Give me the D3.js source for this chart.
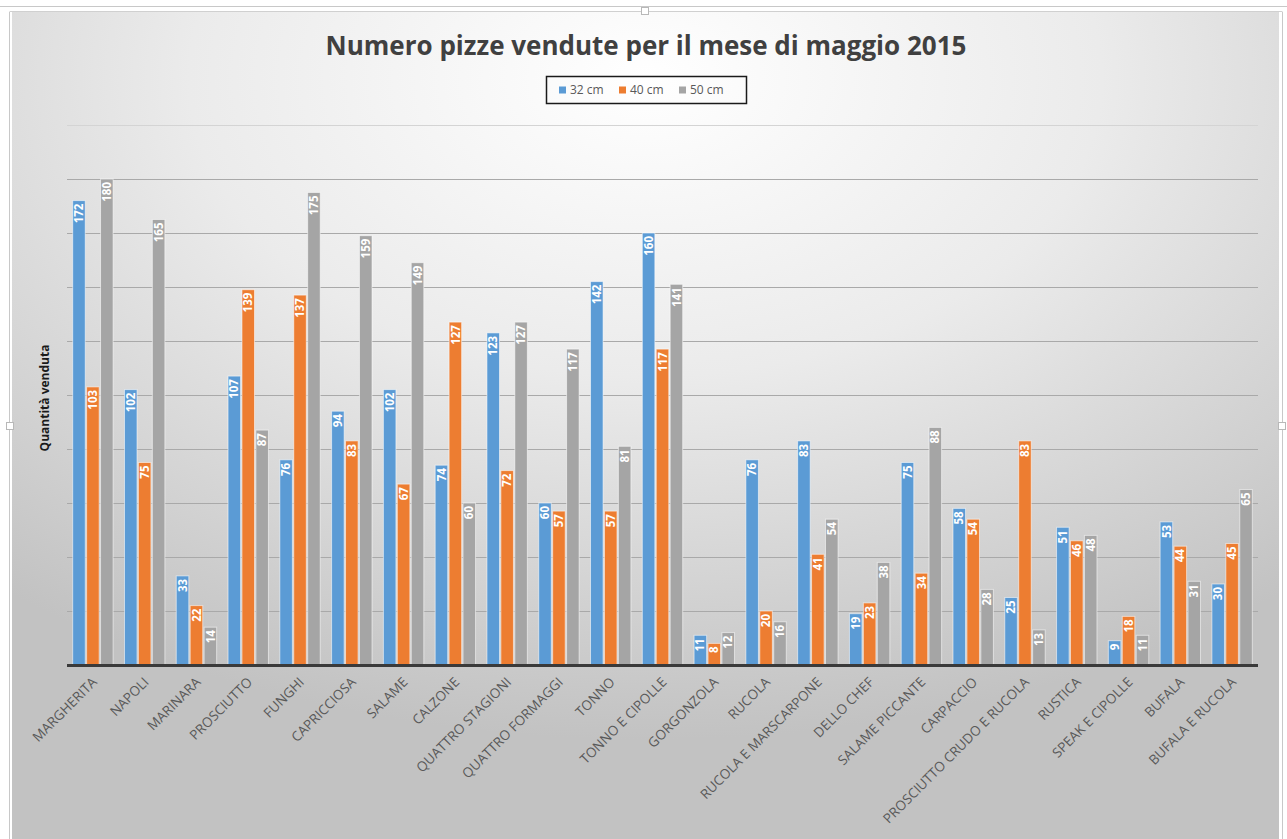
<!DOCTYPE html>
<html>
<head>
<meta charset="utf-8">
<script src="https://cdn.jsdelivr.net/npm/d3@7"></script>
<style>
  html, body { margin: 0; padding: 0; background: #fff; }
  svg { display: block; font-family: "Open Sans", "Liberation Sans", sans-serif; }
</style>
</head>
<body>
<div id="chart"></div>
<script>
// data
const pizze = ['MARGHERITA', 'NAPOLI', 'MARINARA', 'PROSCIUTTO', 'FUNGHI', 'CAPRICCIOSA',
  'SALAME', 'CALZONE', 'QUATTRO STAGIONI', 'QUATTRO FORMAGGI', 'TONNO', 'TONNO E CIPOLLE',
  'GORGONZOLA', 'RUCOLA', 'RUCOLA E MARSCARPONE', 'DELLO CHEF', 'SALAME PICCANTE',
  'CARPACCIO', 'PROSCIUTTO CRUDO E RUCOLA', 'RUSTICA', 'SPEAK E CIPOLLE', 'BUFALA',
  'BUFALA E RUCOLA'];
const series = ['32 cm', '40 cm', '50 cm'];
const cm32 = [172, 102, 33, 107, 76, 94, 102, 74, 123, 60, 142, 160, 11, 76, 83, 19, 75, 58, 25, 51, 9, 53, 30];
const cm40 = [103, 75, 22, 139, 137, 83, 67, 127, 72, 57, 57, 117, 8, 20, 41, 23, 34, 54, 83, 46, 18, 44, 45];
const cm50 = [180, 165, 14, 87, 175, 159, 149, 60, 127, 117, 81, 141, 12, 16, 54, 38, 88, 28, 13, 48, 11, 31, 65];
const gridTicks = [0, 20, 40, 60, 80, 100, 120, 140, 160, 180, 200];

const colors = ['#5b9bd5', '#ed7d31', '#a5a5a5'];
const values = [cm32, cm40, cm50];

const W = 1287, H = 839;
const plot = {left: 67, right: 1258, top: 125, bottom: 665};

const svg = d3.select('#chart').append('svg')
  .attr('width', W).attr('height', H);

// background gradient
const defs = svg.append('defs');
const grad = defs.append('radialGradient')
  .attr('id', 'bg')
  .attr('cx', 0.5).attr('cy', 0.08).attr('r', 0.8)
  .attr('fx', 0.5).attr('fy', 0.08);
grad.append('stop').attr('offset', '0%').attr('stop-color', '#ffffff');
grad.append('stop').attr('offset', '45%').attr('stop-color', '#ebebeb');
grad.append('stop').attr('offset', '100%').attr('stop-color', '#c2c2c2');

// frame (editor selection outline)
svg.append('line').attr('x1', 0).attr('x2', W).attr('y1', 6.5).attr('y2', 6.5)
  .attr('stroke', '#c8c8c8');
svg.append('rect')
  .attr('x', 12).attr('y', 12).attr('width', 1267).attr('height', H - 12)
  .attr('fill', 'url(#bg)');
svg.append('line').attr('x1', 9.5).attr('x2', 9.5).attr('y1', 12).attr('y2', H)
  .attr('stroke', '#c8c8c8');
svg.append('line').attr('x1', 1282.5).attr('x2', 1282.5).attr('y1', 12).attr('y2', H)
  .attr('stroke', '#c8c8c8');
svg.append('line').attr('x1', 9.5).attr('x2', 1282.5).attr('y1', 11.5).attr('y2', 11.5)
  .attr('stroke', '#d0d0d0');
[[645, 11], [10, 426], [1282, 426]].forEach(p => {
  svg.append('rect').attr('x', p[0] - 3.5).attr('y', p[1] - 3.5)
    .attr('width', 7).attr('height', 7)
    .attr('fill', '#fff').attr('stroke', '#b8b8b8');
});

// scales
const x0 = d3.scaleBand().domain(pizze)
  .range([plot.left, plot.right])
  .paddingInner(0.22).paddingOuter(0.11);
const x1 = d3.scaleBand().domain(series)
  .range([0, x0.bandwidth()])
  .paddingInner(0.1);
const y = d3.scaleLinear().domain([0, 200]).range([plot.bottom, plot.top]);

// gridlines
svg.append('g').attr('class', 'grid')
  .selectAll('line')
  .data(gridTicks.filter(d => d > 0))
  .enter().append('line')
  .attr('x1', plot.left).attr('x2', plot.right)
  .attr('y1', d => Math.round(y(d)) + 0.5).attr('y2', d => Math.round(y(d)) + 0.5)
  .attr('stroke', d => d === 200 ? '#d4d4d4' : '#a9a9a9')
  .attr('stroke-width', 1);

// bars
const groups = svg.append('g').attr('class', 'bars')
  .selectAll('g')
  .data(pizze)
  .enter().append('g')
  .attr('transform', d => `translate(${x0(d)},0)`);

const barData = (d, i) => series.map((s, k) => ({key: s, k: k, value: values[k][i]}));

groups.selectAll('rect')
  .data(barData)
  .enter().append('rect')
  .attr('x', d => x1(d.key))
  .attr('y', d => y(d.value))
  .attr('width', x1.bandwidth())
  .attr('height', d => y(0) - y(d.value))
  .attr('fill', d => colors[d.k])
  .attr('stroke', 'rgba(255,255,255,0.55)')
  .attr('stroke-width', 1);

// data labels, rotated, inside end
groups.selectAll('text')
  .data(barData)
  .enter().append('text')
  .attr('transform', d => `translate(${x1(d.key) + x1.bandwidth() / 2},${y(d.value) + 3}) rotate(-90)`)
  .attr('text-anchor', 'end')
  .attr('dy', '0.36em')
  .attr('fill', '#ffffff')
  .attr('font-size', '11.5px')
  .attr('font-weight', 'bold')
  .text(d => d.value);

// x axis line
svg.append('line')
  .attr('x1', plot.left).attr('x2', plot.right)
  .attr('y1', plot.bottom + 0.5).attr('y2', plot.bottom + 0.5)
  .attr('stroke', '#3a3a3a').attr('stroke-width', 3);

// category labels
svg.append('g').attr('class', 'x-labels')
  .selectAll('text')
  .data(pizze)
  .enter().append('text')
  .attr('transform', d => `translate(${x0(d) + x0.bandwidth() / 2 + 5},${plot.bottom + 18}) rotate(-45)`)
  .attr('text-anchor', 'end')
  .attr('fill', '#595959')
  .attr('font-size', '13.5px')
  .text(d => d);

// y axis title
svg.append('text')
  .attr('transform', `translate(49,${(plot.top + plot.bottom) / 2 + 3}) rotate(-90)`)
  .attr('text-anchor', 'middle')
  .attr('fill', '#1a1a1a')
  .attr('font-size', '12px')
  .attr('font-weight', 'bold')
  .text('Quantità venduta');

// title
svg.append('text')
  .attr('x', 646).attr('y', 55)
  .attr('text-anchor', 'middle')
  .attr('fill', '#404040')
  .attr('font-size', '26px')
  .attr('font-weight', 'bold')
  .text('Numero pizze vendute per il mese di maggio 2015');

// legend
const legend = svg.append('g').attr('class', 'legend');
legend.append('rect')
  .attr('x', 546.5).attr('y', 76.5).attr('width', 200).attr('height', 27)
  .attr('fill', 'none').attr('stroke', '#1a1a1a').attr('stroke-width', 1.5);
const lx = [559, 619, 679];
const items = legend.selectAll('g.item')
  .data(series)
  .enter().append('g').attr('class', 'item')
  .attr('transform', (d, i) => `translate(${lx[i]},90)`);
items.append('rect')
  .attr('x', 0).attr('y', -3.5).attr('width', 7).attr('height', 7)
  .attr('fill', (d, i) => colors[i]);
items.append('text')
  .attr('x', 11).attr('dy', '0.35em')
  .attr('fill', '#595959')
  .attr('font-size', '12px')
  .text(d => d);
</script>
</body>
</html>
